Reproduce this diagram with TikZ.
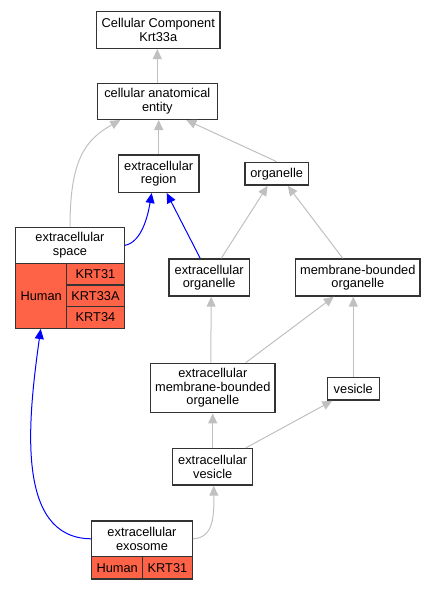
\documentclass[tikz,border=0pt]{standalone}
\usepackage{fontspec}
\setmainfont{Liberation Sans}
\usetikzlibrary{arrows.meta,positioning,calc}

\definecolor{tomato}{HTML}{FF6347}
\definecolor{edgegray}{HTML}{C0C0C0}
\definecolor{boxline}{HTML}{333333}

\begin{document}
\begin{tikzpicture}[x=1pt, y=-1pt,
    term/.style={draw=boxline, line width=1.4pt, rectangle, fill=white, align=center, inner sep=0pt, font=\fontsize{12.8}{13.5}\selectfont},
    cell/.style={term, fill=tomato},
    isa/.style={-{Triangle[length=10pt, width=9pt]}, line width=1pt, draw=edgegray},
    partof/.style={-{Triangle[length=10pt, width=9pt]}, line width=1pt, draw=blue},
]
\useasboundingbox (0,0) rectangle (435,589);

% Terms
\node[term, minimum width=123.3pt, minimum height=36.6pt] (cc) at (158.3, 30) {Cellular Component\\Krt33a};
\node[term, minimum width=120pt, minimum height=36pt] (cae) at (157.3, 101.3) {cellular anatomical\\entity};
\node[term, minimum width=80.7pt, minimum height=37.3pt] (region) at (158.7, 173.7) {extracellular\\region};
\node[term, minimum width=63.3pt, minimum height=22.7pt] (organelle) at (276.7, 173.7) {organelle};
\node[term, minimum width=80.3pt, minimum height=37pt] (extorg) at (209.2, 277.5) {extracellular\\organelle};
\node[term, minimum width=124.3pt, minimum height=37pt] (mborg) at (357.8, 277.5) {membrane-bounded\\organelle};
\node[term, minimum width=124.3pt, minimum height=49.4pt] (extmb) at (212.8, 388) {extracellular\\membrane-bounded\\organelle};
\node[term, minimum width=52pt, minimum height=22.7pt] (vesicle) at (353.3, 388.7) {vesicle};
\node[term, minimum width=80pt, minimum height=36.3pt] (extves) at (212.7, 466.8) {extracellular\\vesicle};

% Annotated terms
\node[term, minimum width=108.6pt, minimum height=36pt] (space) at (70, 245.3) {extracellular\\space};
\node[cell, minimum width=51pt, minimum height=65pt] (spacehuman) at (41.2, 295.8) {Human};
\node[cell, minimum width=57.6pt, minimum height=21.7pt] (spacekrta) at (95.5, 274.2) {KRT31};
\node[cell, minimum width=57.6pt, minimum height=21.7pt] (spacekrtb) at (95.5, 295.8) {KRT33A};
\node[cell, minimum width=57.6pt, minimum height=21.7pt] (spacekrtc) at (95.5, 317.5) {KRT34};

\node[term, minimum width=100.6pt, minimum height=35.7pt] (exo) at (142, 538.8) {extracellular\\exosome};
\node[cell, minimum width=51pt, minimum height=22.3pt] (exohuman) at (117.2, 567.8) {Human};
\node[cell, minimum width=49.6pt, minimum height=22.3pt] (exokrt) at (167.5, 567.8) {KRT31};

% is_a
\draw[isa] (cae.north) -- (cae.north |- cc.south);
\draw[isa] (region.north) -- (region.north |- cae.south);
\draw[isa] (organelle.north) -- ([xshift=29pt]cae.south);
\draw[isa] (space.north) .. controls (70, 160) and (85, 140) .. ([xshift=-37pt]cae.south);
\draw[isa] ([xshift=12pt]extorg.north) -- ([xshift=-9pt]organelle.south);
\draw[isa] ([xshift=-15pt]mborg.north) -- ([xshift=11pt]organelle.south);
\draw[isa] ([xshift=-2pt]extmb.north) -- ([xshift=2pt]extorg.south);
\draw[isa] ([xshift=33pt]extmb.north) -- ([xshift=-24pt]mborg.south);
\draw[isa] (vesicle.north) -- (vesicle.north |- mborg.south);
\draw[isa] (extves.north) -- (extves.north |- extmb.south);
\draw[isa] ([xshift=33pt]extves.north) -- ([xshift=-21pt]vesicle.south);
\draw[isa] (exo.east) .. controls (214, 538) and (214, 515) .. ([xshift=1pt]extves.south);

% part_of
\draw[partof] (space.east) .. controls (142, 242) and (148, 215) .. ([xshift=-7pt]region.south);
\draw[partof] ([xshift=-9pt]extorg.north) -- ([xshift=8pt]region.south);
\draw[partof] (exo.west) .. controls (15, 538) and (28, 420) .. ([xshift=-0.5pt]spacehuman.south);

\end{tikzpicture}
\end{document}
